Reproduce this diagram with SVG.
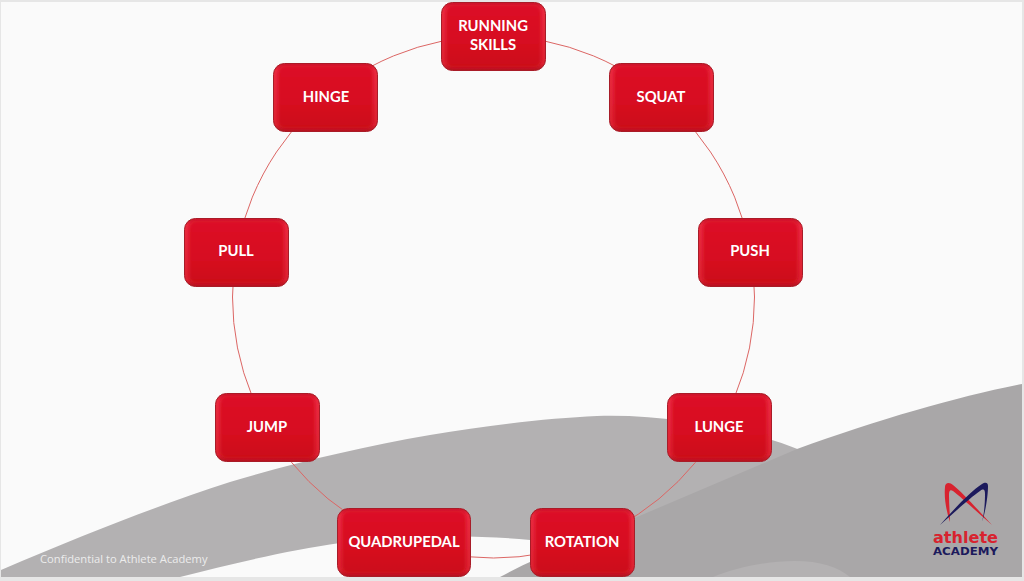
<svg xmlns="http://www.w3.org/2000/svg" width="1024" height="581" viewBox="0 0 1024 581">
<style>
.lbl{font-family:Lato,"Liberation Sans",sans-serif;font-size:14.8px;font-weight:700;fill:#fff;text-anchor:middle}
.conn{fill:none;stroke:#dc6664;stroke-width:1}
.rim{fill:url(#rim);stroke:#a81c28;stroke-width:1}
.core{fill:url(#body);filter:url(#soft)}
</style>
<defs>
<filter id="soft" x="-10%" y="-10%" width="120%" height="120%"><feGaussianBlur stdDeviation="1.4"/></filter>
<linearGradient id="body" x1="0" y1="0" x2="0" y2="1"><stop offset="0" stop-color="#dc0e26"/><stop offset="0.6" stop-color="#d70c20"/><stop offset="1" stop-color="#cb0a18"/></linearGradient>
<linearGradient id="rim" x1="0" y1="0" x2="0" y2="1"><stop offset="0" stop-color="#c81628"/><stop offset="0.1" stop-color="#e92a3e"/><stop offset="0.9" stop-color="#dc2232"/><stop offset="1" stop-color="#b0121e"/></linearGradient>
<g id="box">
<rect class="rim" x="0.5" y="0.5" width="104" height="68" rx="11"/>
<rect class="core" x="5" y="3" width="95" height="62.5" rx="7"/>
</g>
</defs>
<rect width="1024" height="581" fill="#e6e6e6"/>
<rect x="1" y="2" width="1021" height="575" fill="#fafafa"/>
<g id="background">
<path d="M1 577V570C90 532 165 503 230 482C290 464 360 447 430 435C490 425 550 418 597 416C660 414 740 426 800 450V560L530 540C470 534 400 536 340 543C290 550 230 564 180 577Z" fill="#b3b1b2"/>
<path d="M500 577C540 555 590 537 637 517L797 449C880 419 960 396 1022 384V577Z" fill="#a9a7a8"/>
<path d="M713 577C735 568 765 561 795 561C820 561 838 567 850 577Z" fill="#b3b1b2"/>
</g>
<g id="connectors">
<circle class="conn" cx="493.5" cy="297" r="261"/>
</g>
<g id="node-running"><use href="#box" x="441" y="2"/><text class="lbl" x="493" y="31">RUNNING</text><text class="lbl" x="493" y="50">SKILLS</text></g>
<g id="node-squat"><use href="#box" x="609" y="63"/><text class="lbl" x="661" y="102">SQUAT</text></g>
<g id="node-push"><use href="#box" x="698" y="218"/><text class="lbl" x="750" y="256">PUSH</text></g>
<g id="node-lunge"><use href="#box" x="667" y="393"/><text class="lbl" x="719" y="432">LUNGE</text></g>
<g id="node-rotation"><use href="#box" x="530" y="508"/><text class="lbl" x="582" y="547">ROTATION</text></g>
<g id="node-quadrupedal"><rect class="rim" x="337.5" y="508.5" width="133" height="68" rx="11"/><rect class="core" x="342" y="511" width="124" height="62.5" rx="7"/><text class="lbl" x="404" y="547">QUADRUPEDAL</text></g>
<g id="node-jump"><use href="#box" x="215" y="393"/><text class="lbl" x="267" y="432">JUMP</text></g>
<g id="node-pull"><use href="#box" x="184" y="218"/><text class="lbl" x="236" y="256">PULL</text></g>
<g id="node-hinge"><use href="#box" x="273" y="63"/><text class="lbl" x="326" y="102">HINGE</text></g>
<text x="40" y="563" font-family="'Open Sans','Liberation Sans',sans-serif" font-size="11.2" fill="#ececec">Confidential to Athlete Academy</text>
<g id="logo">
<path d="M950 522C946 510 944 498 945 487C945 482 950 482 953 485C963 493 978 510 992 525C976 511 962 498 953 491C950 489 949 491 949 495C949 505 950 515 950 522Z" fill="#d8232f"/>
<path d="M982 522C986 510 988 495 988 486C988 482 985 482 982 484C970 492 955 508 940 525C956 511 970 498 980 491C984 488 985 490 985 494C985 505 984 514 982 522Z" fill="#1c1a5c"/>
<text x="933" y="543" font-family="'DejaVu Sans',sans-serif" font-size="16" font-weight="700" fill="#d8232f" textLength="65" lengthAdjust="spacingAndGlyphs">athlete</text>
<text x="933" y="555" font-family="'DejaVu Sans',sans-serif" font-size="11" font-weight="700" fill="#1c1a5c" textLength="65" lengthAdjust="spacingAndGlyphs">ACADEMY</text>
</g>
</svg>
